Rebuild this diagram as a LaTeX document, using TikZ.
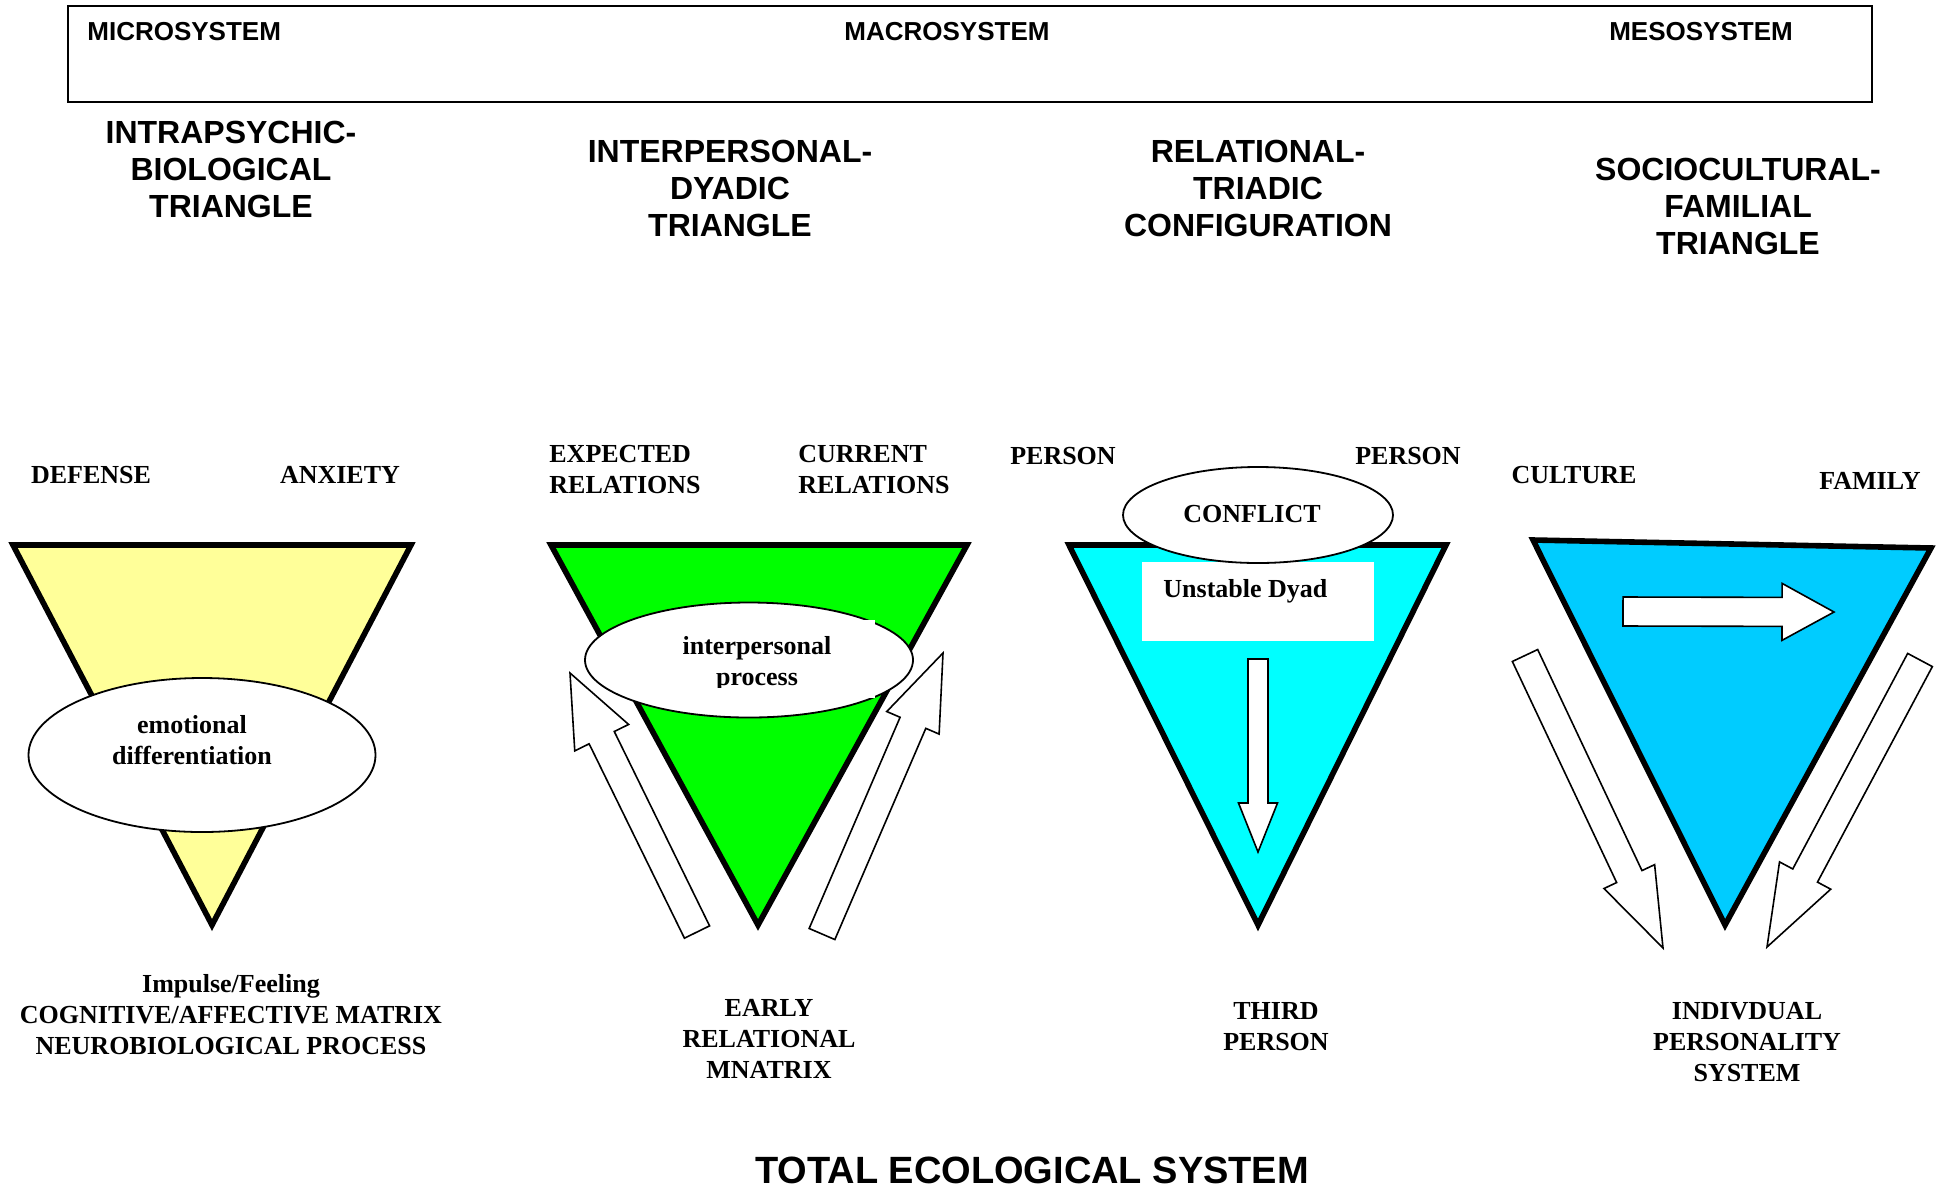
\documentclass[tikz,border=0pt]{standalone}
\usepackage{fontspec}
\setmainfont{Liberation Serif}
\setsansfont{Liberation Sans}
\usetikzlibrary{calc,shapes.geometric}

\definecolor{paleyellow}{HTML}{FFFF99}
\definecolor{brightgreen}{HTML}{00FF00}
\definecolor{aqua}{HTML}{00FFFF}
\definecolor{skyblue}{HTML}{00CCFF}

% hollow block arrow: tail, tip, half shaft, half head, head length
\newcommand{\fatarrow}[5]{%
\coordinate (neck) at ($(#2)!#5!(#1)$);
\draw[hollow] ($(#1)!#3!90:(#2)$) -- ($(neck)!#3!90:(#2)$)
  -- ($(neck)!#4!90:(#2)$) -- (#2) -- ($(neck)!#4!-90:(#2)$)
  -- ($(neck)!#3!-90:(#2)$) -- ($(#1)!#3!-90:(#2)$) -- cycle;}

\begin{document}
\begin{tikzpicture}[x=0.5pt,y=-0.5pt,
  tri/.style={draw=black,line width=2.8pt,line join=miter},
  hollow/.style={draw=black,fill=white,line width=0.8pt,line join=miter},
  oval/.style={ellipse,draw=black,fill=white,line width=0.9pt,inner sep=0pt},
  sysname/.style={font=\sffamily\bfseries\fontsize{13}{15}\selectfont,inner sep=0pt},
  heading/.style={font=\sffamily\bfseries\fontsize{16}{18.5}\selectfont,align=center,inner sep=0pt},
  word/.style={font=\bfseries\fontsize{13}{15.5}\selectfont,align=center,inner sep=0pt},
  title/.style={font=\sffamily\bfseries\fontsize{19}{22}\selectfont,inner sep=0pt}]
\useasboundingbox[fill=white] (0,0) rectangle (1948,1190);
%Systems
\draw[line width=0.8pt] (68,6) rectangle (1872,102);
\node[sysname,anchor=west] (micro) at (87,32) {MICROSYSTEM};
\node[sysname] (macro) at (947,32) {MACROSYSTEM};
\node[sysname] (meso) at (1701,32) {MESOSYSTEM};
\node[heading] (intra) at (231,169) {INTRAPSYCHIC-\\BIOLOGICAL\\TRIANGLE};
\node[heading] (inter) at (730,188) {INTERPERSONAL-\\DYADIC\\TRIANGLE};
\node[heading] (triad) at (1258,188) {RELATIONAL-\\TRIADIC\\CONFIGURATION};
\node[heading] (socio) at (1738,206) {SOCIOCULTURAL-\\FAMILIAL\\TRIANGLE};
%Intrapsychic
\filldraw[tri,fill=paleyellow] (13,545) -- (411,545) -- (212,925) -- cycle;
\node[oval,minimum width=173.5pt,minimum height=77pt] (emo) at (202,755) {};
\node[word] (emotxt) at (192,740) {emotional\\differentiation};
\node[word] (defense) at (91,475) {DEFENSE};
\node[word] (anxiety) at (340,475) {ANXIETY};
\node[word] (impulse) at (231,1015) {Impulse/Feeling\\COGNITIVE/AFFECTIVE MATRIX\\NEUROBIOLOGICAL PROCESS};
%Dyadic
\filldraw[tri,fill=brightgreen] (551,545) -- (967,545) -- (758,925) -- cycle;
\node[oval,minimum width=164pt,minimum height=57.5pt] (interoval) at (749,660) {};
\fill[white] (640,620) rectangle (875,698);
\begin{scope}
\clip (640,620) rectangle (875,687);
\node[word] (intertxt) at (757,664) {interpersonal\\process};
\end{scope}
\coordinate (tailA) at (697,932);
\coordinate (tipA) at (570,673);
\fatarrow{tailA}{tipA}{7pt}{15pt}{36pt}
\coordinate (tailB) at (822,934);
\coordinate (tipB) at (943,653);
\fatarrow{tailB}{tipB}{7pt}{14.25pt}{38pt}
\node[word,align=left,anchor=west] (expected) at (549,470) {EXPECTED\\RELATIONS};
\node[word,align=left,anchor=west] (current) at (798,470) {CURRENT\\RELATIONS};
\node[word] (early) at (769,1039) {EARLY\\RELATIONAL\\MNATRIX};
%Triadic
\filldraw[tri,fill=aqua] (1069,545) -- (1446,545) -- (1258,925) -- cycle;
\node[fill=white,inner sep=0pt,minimum width=116pt,minimum height=39.5pt] (dyadbox) at (1258,601.5) {};
\node[word,anchor=west] (dyad) at (1163,591) {Unstable Dyad};
\node[oval,minimum width=135pt,minimum height=48pt] (conflict) at (1258,515) {};
\node[word] (conflicttxt) at (1252,514) {CONFLICT};
\coordinate (tailC) at (1258,659);
\coordinate (tipC) at (1258,852);
\fatarrow{tailC}{tipC}{5pt}{9.75pt}{24.5pt}
\node[word] (personl) at (1063,456) {PERSON};
\node[word] (personr) at (1408,456) {PERSON};
\node[word] (third) at (1276,1027) {THIRD\\PERSON};
%Sociocultural
\filldraw[tri,fill=skyblue] (1533,540) -- (1931,548) -- (1725,925) -- cycle;
\coordinate (tailD) at (1623,611.5);
\coordinate (tipD) at (1834,612);
\fatarrow{tailD}{tipD}{7.25pt}{14.25pt}{26pt}
\coordinate (tailE) at (1525,655.5);
\coordinate (tipE) at (1663,948);
\fatarrow{tailE}{tipE}{7pt}{14pt}{39.5pt}
\coordinate (tailF) at (1920,660);
\coordinate (tipF) at (1767,947);
\fatarrow{tailF}{tipF}{7pt}{14.5pt}{40.5pt}
\node[word] (culture) at (1574,475) {CULTURE};
\node[word] (family) at (1870,481) {FAMILY};
\node[word] (indiv) at (1747,1042) {INDIVDUAL\\PERSONALITY\\SYSTEM};
%Total
\node[title] (total) at (1032,1170) {TOTAL ECOLOGICAL SYSTEM};
\end{tikzpicture}
\end{document}
